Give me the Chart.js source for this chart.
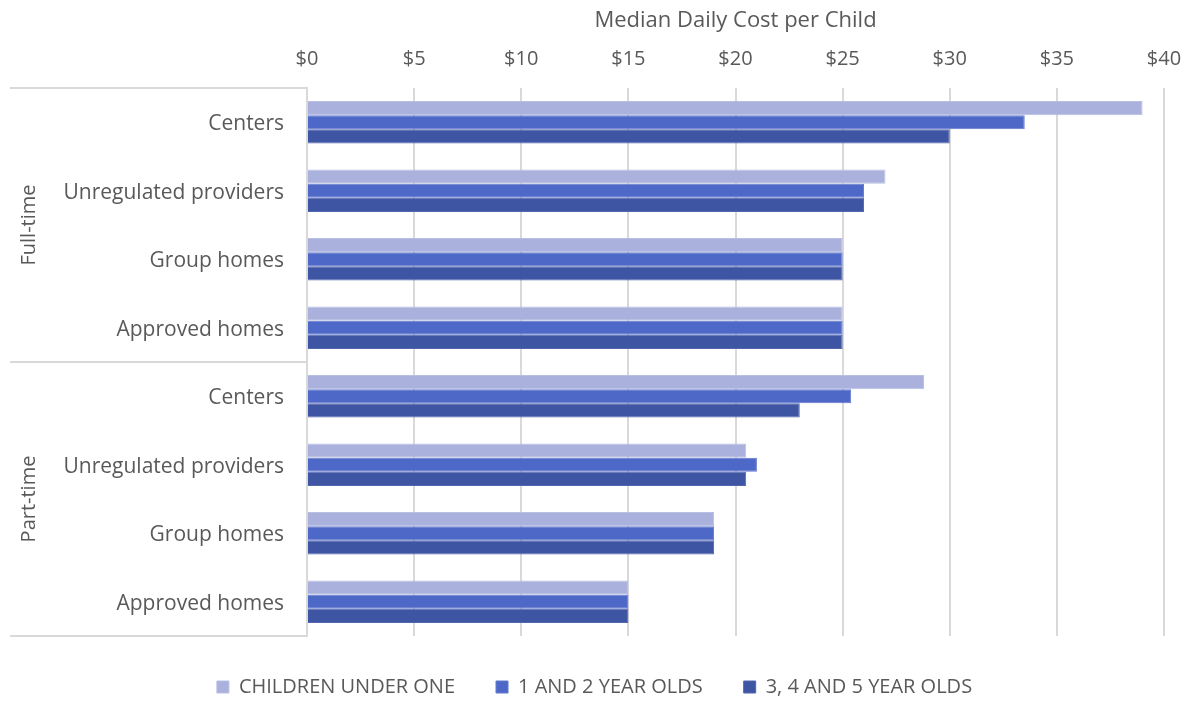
<!DOCTYPE html>
<html>
<head>
<meta charset="utf-8">
<script src="https://cdn.jsdelivr.net/npm/chart.js@4/dist/chart.umd.min.js"></script>
<style>
  html, body { margin: 0; padding: 0; background: #fff; }
  #wrap { width: 1189px; height: 702px; }
</style>
</head>
<body>
<div id="wrap"><canvas id="costChart"></canvas></div>
<script>
const categories = [
  "Centers", "Unregulated providers", "Group homes", "Approved homes",
  "Centers", "Unregulated providers", "Group homes", "Approved homes"
];
const groupNames = ["Full-time", "Part-time"];
const groupSize = 4;

const underOne  = [39, 27, 25, 25, 28.8, 20.5, 19, 15];
const oneTwo    = [33.5, 26, 25, 25, 25.4, 21, 19, 15];
const threeFive = [30, 26, 25, 25, 23, 20.5, 19, 15];

const xMin = 0, xMax = 40, xStep = 5;

const textColor = '#595959';
const gridColor = '#D9D9D9';
const fontFamily = '"Open Sans", sans-serif';

// two-level category labels: group names + separators on the left
const groupLabels = {
  id: 'groupLabels',
  afterDraw(chart) {
    const y = chart.scales.y;
    const ctx = chart.ctx;
    const step = y.getPixelForValue(1) - y.getPixelForValue(0);
    ctx.save();
    ctx.strokeStyle = gridColor;
    ctx.lineWidth = 2;
    for (let g = 0; g <= groupNames.length; g++) {
      const py = Math.round(y.getPixelForValue(g * groupSize) - step / 2);
      ctx.beginPath();
      ctx.moveTo(10, py);
      ctx.lineTo(y.right, py);
      ctx.stroke();
    }
    ctx.fillStyle = textColor;
    ctx.font = '20px ' + fontFamily;
    ctx.textAlign = 'center';
    ctx.textBaseline = 'middle';
    groupNames.forEach((name, g) => {
      const top = y.getPixelForValue(g * groupSize) - step / 2;
      const bottom = y.getPixelForValue((g + 1) * groupSize - 1) + step / 2;
      ctx.save();
      ctx.translate(29, (top + bottom) / 2);
      ctx.rotate(-Math.PI / 2);
      ctx.fillText(name, 0, 0);
      ctx.restore();
    });
    ctx.restore();
  }
};

new Chart(document.getElementById('costChart'), {
  type: 'bar',
  data: {
    labels: categories,
    datasets: [
      { label: 'CHILDREN UNDER ONE', data: underOne, backgroundColor: '#A9B1DC', borderColor: '#B8BFE3', borderWidth: 1 },
      { label: '1 AND 2 YEAR OLDS', data: oneTwo, backgroundColor: '#4E68C7', borderColor: '#6278CE', borderWidth: 1 },
      { label: '3, 4 AND 5 YEAR OLDS', data: threeFive, backgroundColor: '#3E55A3', borderColor: '#5266AE', borderWidth: 1 }
    ]
  },
  options: {
    indexAxis: 'y',
    responsive: true,
    maintainAspectRatio: false,
    animation: false,
    layout: { padding: { left: 0, right: 0, top: 0, bottom: -5 } },
    datasets: { bar: { categoryPercentage: 0.62, barPercentage: 1.0 } },
    scales: {
      x: {
        position: 'top',
        min: xMin,
        max: xMax,
        afterFit(scale) {
          scale.height = 88;
          scale.paddingLeft = 0;
          scale.paddingRight = 25;
        },
        ticks: {
          stepSize: xStep,
          padding: 17,
          color: textColor,
          font: { family: fontFamily, size: 20 },
          callback: v => '$' + v
        },
        grid: { color: gridColor, lineWidth: 2, drawTicks: false },
        border: { display: false },
        title: {
          display: true,
          text: 'Median Daily Cost per Child',
          color: textColor,
          font: { family: fontFamily, size: 22 },
          padding: { top: 8, bottom: 0 }
        }
      },
      y: {
        afterFit(scale) { scale.width = 307; },
        ticks: {
          padding: 23,
          labelOffset: 2,
          color: textColor,
          font: { family: fontFamily, size: 21 }
        },
        grid: { display: false, drawTicks: false },
        border: { display: true, color: gridColor, width: 2 }
      }
    },
    plugins: {
      legend: {
        position: 'bottom',
        labels: {
          color: textColor,
          font: { family: fontFamily, size: 20 },
          boxWidth: 12,
          boxHeight: 12,
          padding: 41
        }
      },
      tooltip: { enabled: false }
    }
  },
  plugins: [groupLabels]
});
</script>
</body>
</html>
